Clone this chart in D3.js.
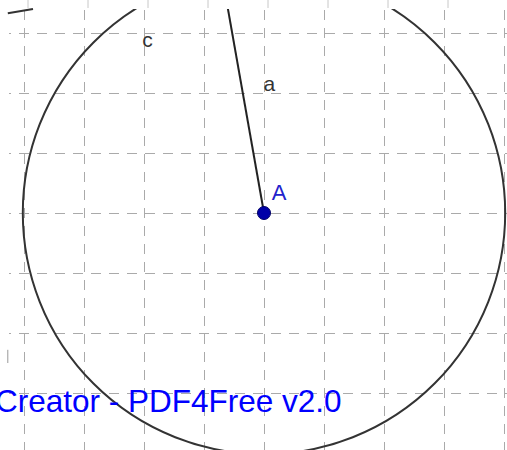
<!DOCTYPE html>
<html>
<head>
<meta charset="utf-8">
<script src="https://cdn.jsdelivr.net/npm/d3@7"></script>
<style>
  html, body { margin: 0; padding: 0; background: #fff; }
  svg { display: block; }
  text { font-family: "Liberation Sans", Arial, sans-serif; }
</style>
</head>
<body>
<svg id="chart" width="507" height="450"></svg>
<script>
// grid positions (data units, 1 unit per grid cell)
const gridX = [-4, -3, -2, -1, 0, 1, 2, 3, 4];
const gridY = [-4, -3, -2, -1, 0, 1, 2, 3];

// point A, circle c and segment a
const pointA = {name: "A", x: 0, y: 0};
const circleC = {name: "c", cx: 0, cy: 0, r: 4.02};
const segA = {name: "a", from: [0, 0], to: [-0.7, 3.96]};

// label anchors (data units)
const labels = [
  {text: "c", x: -2.03, y: 2.76, size: 21, color: "#333"},
  {text: "a", x: -0.01, y: 2.03, size: 21, color: "#333"},
  {text: "A", x: 0.13, y: 0.22, size: 22, color: "#2222cc"}
];

// stray bits of another screen at the edges
const strays = [
  [[-4.27, 3.33], [-3.85, 3.4]],
  [[-4.27, -2.28], [-4.27, -2.5]]
];

const watermark = "Creator - PDF4Free v2.0";

const svg = d3.select("#chart");
const width = +svg.attr("width");
const height = +svg.attr("height");

const x = d3.scaleLinear().domain([-4, 4]).range([24, 504]);
const y = d3.scaleLinear().domain([-3, 3]).range([393, 33]);
const unit = x(1) - x(0);
const viewTop = 9, viewLeft = 9;

svg.append("rect").attr("width", width).attr("height", height).attr("fill", "#fff");

// the strip above the view: short grey ticks, slightly shifted
svg.append("g")
  .selectAll("line")
  .data(gridX)
  .join("line")
    .attr("x1", d => x(d) + 4).attr("x2", d => x(d) + 4)
    .attr("y1", 0).attr("y2", viewTop - 1)
    .attr("stroke", "#c8c8c8").attr("stroke-width", 1);

svg.append("clipPath").attr("id", "view")
  .append("rect")
    .attr("x", viewLeft).attr("y", viewTop)
    .attr("width", width - viewLeft).attr("height", height - viewTop);

const g = svg.append("g").attr("clip-path", "url(#view)");

// dashed grid
const grid = g.append("g")
  .attr("stroke", "#aaa")
  .attr("stroke-width", 1)
  .attr("stroke-dasharray", "10,8");

grid.selectAll(".vx")
  .data(gridX)
  .join("line")
    .attr("class", "vx")
    .attr("x1", d => x(d) + 0.5).attr("x2", d => x(d) + 0.5)
    .attr("y1", y(3) - 5 - 36).attr("y2", height);

grid.selectAll(".hy")
  .data(gridY)
  .join("line")
    .attr("class", "hy")
    .attr("y1", d => y(d) + 0.5).attr("y2", d => y(d) + 0.5)
    .attr("x1", x(-4) - 5 - 36).attr("x2", width);

// watermark text
svg.append("text")
  .attr("x", -5)
  .attr("y", 412)
  .attr("font-size", 31.5)
  .attr("fill", "#0000ff")
  .text(watermark);

// circle c
g.append("circle")
  .attr("cx", x(circleC.cx))
  .attr("cy", y(circleC.cy))
  .attr("r", circleC.r * unit)
  .attr("fill", "none")
  .attr("stroke", "#333")
  .attr("stroke-width", 2);

// segment a
g.append("line")
  .attr("x1", x(segA.from[0])).attr("y1", y(segA.from[1]))
  .attr("x2", x(segA.to[0])).attr("y2", y(segA.to[1]))
  .attr("stroke", "#222")
  .attr("stroke-width", 2);

svg.selectAll(".stray")
  .data(strays)
  .join("line")
    .attr("class", "stray")
    .attr("x1", d => x(d[0][0])).attr("y1", d => y(d[0][1]))
    .attr("x2", d => x(d[1][0])).attr("y2", d => y(d[1][1]))
    .attr("stroke", (d, i) => i === 0 ? "#333" : "#999")
    .attr("stroke-width", (d, i) => i === 0 ? 2 : 1);

// point A
g.append("circle")
  .attr("cx", x(pointA.x))
  .attr("cy", y(pointA.y))
  .attr("r", 6.5)
  .attr("fill", "#0000a8")
  .attr("stroke", "#000066")
  .attr("stroke-width", 1);

// labels
g.selectAll(".lbl")
  .data(labels)
  .join("text")
    .attr("class", "lbl")
    .attr("x", d => x(d.x))
    .attr("y", d => y(d.y))
    .attr("font-size", d => d.size)
    .attr("fill", d => d.color)
    .text(d => d.text);
</script>
</body>
</html>
